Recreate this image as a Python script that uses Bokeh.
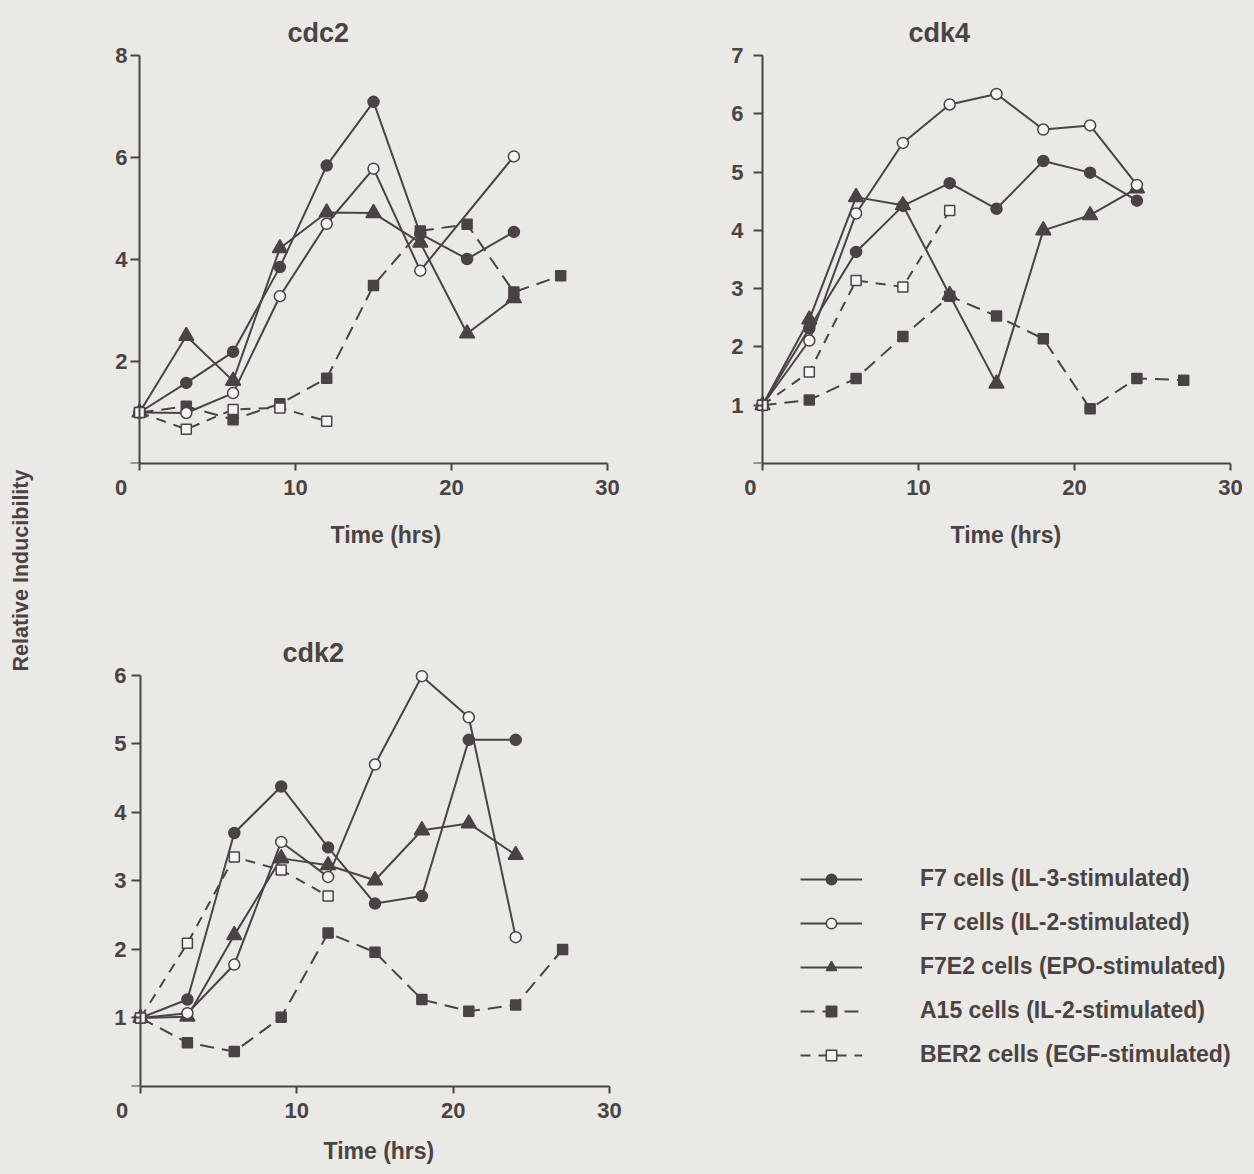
import math
from bokeh.plotting import figure
from bokeh.models import Range1d, Label, Legend, LegendItem, FixedTicker, Title
from bokeh.layouts import row, column
from bokeh.embed import file_html
from bokeh.resources import INLINE

# ---------------- data ----------------
times_9 = [0, 3, 6, 9, 12, 15, 18, 21, 24]
times_10 = [0, 3, 6, 9, 12, 15, 18, 21, 24, 27]
times_5 = [0, 3, 6, 9, 12]
times_cdc2_il2 = [0, 3, 6, 9, 12, 15, 18, 24]

series_labels = [
    "F7 cells (IL-3-stimulated)",
    "F7 cells (IL-2-stimulated)",
    "F7E2 cells (EPO-stimulated)",
    "A15 cells (IL-2-stimulated)",
    "BER2 cells (EGF-stimulated)",
]

cdc2_il3 = [1.0, 1.58, 2.19, 3.85, 5.84, 7.09, 4.50, 4.01, 4.54]
cdc2_il2 = [1.0, 0.99, 1.38, 3.28, 4.70, 5.78, 3.78, 6.02]
cdc2_epo = [1.0, 2.50, 1.62, 4.22, 4.92, 4.91, 4.33, 2.55, 3.24]
cdc2_a15 = [1.0, 1.12, 0.86, 1.17, 1.67, 3.49, 4.56, 4.69, 3.36, 3.68]
cdc2_ber2 = [1.0, 0.67, 1.06, 1.09, 0.83]

cdk4_il3 = [1.0, 2.32, 3.63, 4.42, 4.81, 4.37, 5.19, 4.99, 4.51]
cdk4_il2 = [1.0, 2.11, 4.29, 5.50, 6.16, 6.34, 5.73, 5.80, 4.78]
cdk4_epo = [1.0, 2.47, 4.57, 4.43, 2.89, 1.37, 4.00, 4.26, 4.72]
cdk4_a15 = [1.0, 1.09, 1.46, 2.18, 2.87, 2.53, 2.14, 0.94, 1.46, 1.43]
cdk4_ber2 = [1.0, 1.57, 3.14, 3.03, 4.34]

cdk2_il3 = [1.0, 1.27, 3.70, 4.38, 3.49, 2.67, 2.78, 5.06, 5.06]
cdk2_il2 = [1.0, 1.07, 1.78, 3.57, 3.06, 4.70, 5.99, 5.39, 2.18]
cdk2_epo = [1.0, 1.02, 2.21, 3.33, 3.23, 3.01, 3.74, 3.84, 3.38]
cdk2_a15 = [1.0, 0.64, 0.51, 1.01, 2.24, 1.96, 1.27, 1.10, 1.19, 2.00]
cdk2_ber2 = [1.0, 2.09, 3.35, 3.16, 2.78]

x_ticks = [0, 10, 20, 30]
cdc2_yticks = [0, 2, 4, 6, 8]
cdk4_yticks = [0, 1, 2, 3, 4, 5, 6, 7]
cdk2_yticks = [0, 1, 2, 3, 4, 5, 6]

# ---------------- styling ----------------
BG = "#ebe9e5"
INK = "#4a4343"
OPEN = "#f6f5f2"
FONT = "Liberation Sans"
XMAX = 30
NBSP = "\u00a0"

STYLES = [
    dict(marker="circle", size=11, fill=INK, dash="solid"),
    dict(marker="circle", size=11, fill=OPEN, dash="solid"),
    dict(marker="triangle", size=15, fill=INK, dash="solid"),
    dict(marker="square", size=10, fill=INK, dash="14 8"),
    dict(marker="square", size=10, fill=OPEN, dash="10 8"),
]
DRAW_ORDER = [3, 2, 0, 1, 4]


def make_panel(title, series, ymax, yticks, fig_box, axis_box, pad_l, title_left,
               xlabel_left, zero_pad, ytick_standoff, xlabel_standoff, extend_right=False):
    fx0, fy0, fw, fh = fig_box
    L, T, R, B = axis_box
    pad_t = 8
    sx = (R - L) / XMAX
    sy = (B - T) / ymax
    frame_left = L - pad_l
    frame_right = fx0 + fw if extend_right else R
    p = figure(width=fw, height=fh,
               x_range=Range1d(-pad_l / sx, XMAX + (frame_right - R) / sx),
               y_range=Range1d(0, ymax + pad_t / sy),
               output_backend="svg", toolbar_location=None,
               min_border_left=frame_left - fx0, min_border_right=fx0 + fw - frame_right,
               min_border_top=T - pad_t - fy0, min_border_bottom=fy0 + fh - B)
    p.background_fill_color = BG
    p.border_fill_color = BG
    p.outline_line_color = None
    p.xgrid.visible = False
    p.ygrid.visible = False

    p.title.text = title
    p.title.align = "left"
    p.title.offset = title_left - frame_left
    p.title.standoff = 0
    p.title.text_font = FONT
    p.title.text_font_size = "27px"
    p.title.text_font_style = "bold"
    p.title.text_color = INK

    xa = p.xaxis[0]
    ya = p.yaxis[0]
    for ax in (xa, ya):
        ax.axis_line_color = INK
        ax.axis_line_width = 2
        ax.major_tick_line_color = INK
        ax.major_tick_line_width = 2
        ax.major_tick_in = 0
        ax.minor_tick_line_color = None
        ax.major_label_text_font = FONT
        ax.major_label_text_font_size = "22px"
        ax.major_label_text_font_style = "bold"
        ax.major_label_text_color = INK
    xa.ticker = FixedTicker(ticks=x_ticks)
    xa.major_label_overrides = {0: "0" + NBSP * zero_pad}
    xa.bounds = (0, XMAX)
    xa.major_tick_out = 7
    xa.major_label_standoff = 4

    ya.ticker = FixedTicker(ticks=yticks)
    ya.major_label_overrides = {0: ""}
    ya.bounds = (0, ymax)
    ya.fixed_location = 0
    ya.major_tick_out = 9
    ya.major_label_standoff = ytick_standoff

    p.add_layout(Title(text="Time (hrs)", align="left", offset=xlabel_left - frame_left,
                       standoff=xlabel_standoff, text_font=FONT, text_font_size="23px",
                       text_font_style="bold", text_color=INK), "below")

    renderers = {}
    for i in DRAW_ORDER:
        t, v = series[i]
        st = STYLES[i]
        renderers[("line", i)] = p.line(t, v, line_color=INK, line_width=2, line_dash=st["dash"])
    for i in DRAW_ORDER:
        t, v = series[i]
        st = STYLES[i]
        renderers[("mark", i)] = p.scatter(t, v, marker=st["marker"], size=st["size"],
                                           fill_color=st["fill"], line_color=INK, line_width=1.5)
    return p, renderers, frame_left


ROW1_H = 580
LEFT_W = 40
COL1_W = 640
COL2_W = 1254 - LEFT_W - COL1_W
ROW2_H = 1174 - ROW1_H

p1, _, _ = make_panel("cdc2",
                      [(times_9, cdc2_il3), (times_cdc2_il2, cdc2_il2), (times_9, cdc2_epo),
                       (times_10, cdc2_a15), (times_5, cdc2_ber2)],
                      8, cdc2_yticks, (LEFT_W, 0, COL1_W, ROW1_H), (139, 55, 607, 466), 34,
                      287, 330, 6, 3, 35)
p2, _, _ = make_panel("cdk4",
                      [(times_9, cdk4_il3), (times_9, cdk4_il2), (times_9, cdk4_epo),
                       (times_10, cdk4_a15), (times_5, cdk4_ber2)],
                      7, cdk4_yticks, (LEFT_W + COL1_W, 0, COL2_W, ROW1_H), (762, 55, 1230, 463), 36,
                      908, 950, 4, 10, 35)
p3, r3, fl3 = make_panel("cdk2",
                         [(times_9, cdk2_il3), (times_9, cdk2_il2), (times_9, cdk2_epo),
                          (times_10, cdk2_a15), (times_5, cdk2_ber2)],
                         6, cdk2_yticks, (LEFT_W, ROW1_H, 1254 - LEFT_W, ROW2_H), (140, 675, 609, 1087), 34,
                         282, 323, 6, 5, 21, extend_right=True)

items = [LegendItem(label=lab, renderers=[r3[("line", i)], r3[("mark", i)]])
         for i, lab in enumerate(series_labels)]
legend = Legend(items=items, location=(800 - fl3, 18),
                padding=0, margin=0, spacing=17, glyph_width=62, glyph_height=26,
                label_height=26, label_standoff=58,
                label_text_font=FONT, label_text_font_size="23px",
                label_text_font_style="bold", label_text_color=INK,
                background_fill_alpha=0, border_line_alpha=0)
p3.add_layout(legend)

# strip with the shared y label
strip = figure(width=LEFT_W, height=1174, x_range=Range1d(0, 1), y_range=Range1d(0, 1),
               x_axis_type=None, y_axis_type=None, output_backend="svg", toolbar_location=None,
               min_border=0)
strip.background_fill_color = BG
strip.border_fill_color = BG
strip.outline_line_color = None
strip.xgrid.visible = False
strip.ygrid.visible = False
strip.add_layout(Label(x=20, y=1174 - 570, x_units="screen", y_units="screen",
                       text="Relative Inducibility", angle=math.pi / 2,
                       text_align="center", text_baseline="middle",
                       text_font=FONT, text_font_size="21.5px", text_font_style="bold",
                       text_color=INK))

r1 = row(p1, p2, styles={"background-color": BG})
c1 = column(r1, p3, styles={"background-color": BG})
layout = row(strip, c1, styles={"background-color": BG})
open("out.html", "w").write(file_html(layout, INLINE))
